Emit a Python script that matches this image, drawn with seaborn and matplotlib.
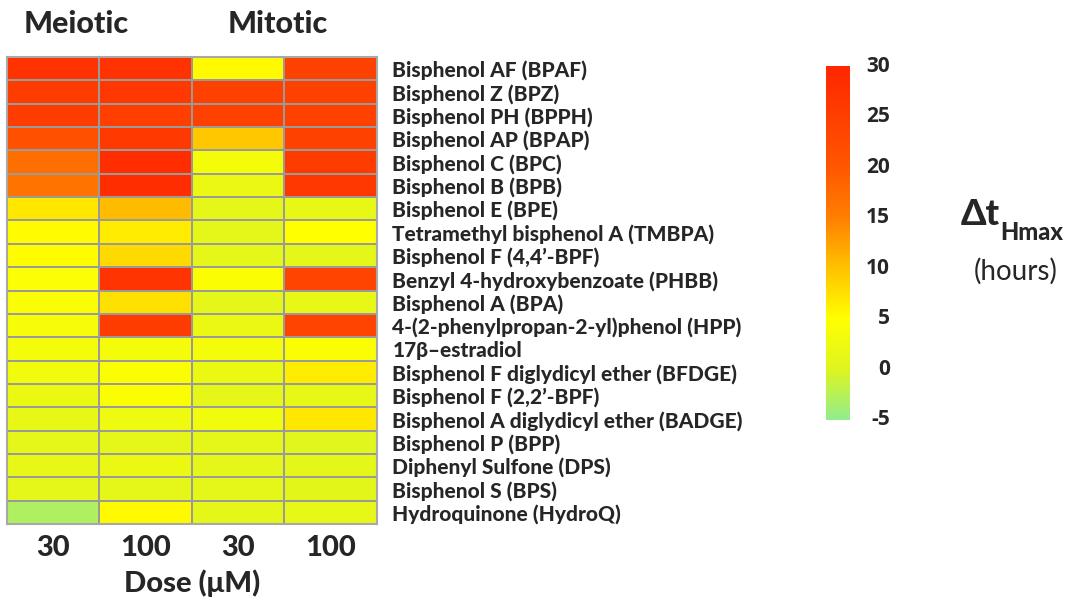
import numpy as np
import pandas as pd
import matplotlib
matplotlib.use("Agg")
import matplotlib.pyplot as plt
import matplotlib.transforms as mtransforms
from matplotlib.colors import LinearSegmentedColormap
import seaborn as sns

compounds = [
    "Bisphenol AF (BPAF)",
    "Bisphenol Z (BPZ)",
    "Bisphenol PH (BPPH)",
    "Bisphenol AP (BPAP)",
    "Bisphenol C (BPC)",
    "Bisphenol B (BPB)",
    "Bisphenol E (BPE)",
    "Tetramethyl bisphenol A (TMBPA)",
    "Bisphenol F (4,4\u2019-BPF)",
    "Benzyl 4-hydroxybenzoate (PHBB)",
    "Bisphenol A (BPA)",
    "4-(2-phenylpropan-2-yl)phenol (HPP)",
    "17\u03b2\u2013estradiol",
    "Bisphenol F diglydicyl ether (BFDGE)",
    "Bisphenol F (2,2\u2019-BPF)",
    "Bisphenol A diglydicyl ether (BADGE)",
    "Bisphenol P (BPP)",
    "Diphenyl Sulfone (DPS)",
    "Bisphenol S (BPS)",
    "Hydroquinone (HydroQ)",
]
dose_labels = ["30", "100", "30", "100"]
cbar_ticks = [30, 25, 20, 15, 10, 5, 0, -5]

# Delta t_Hmax (hours) per compound
meiotic_30 = [27.5, 25.5, 25.5, 21.0, 17.0, 16.5, 7.0, 5.3, 5.3, 4.3, 4.2, 3.8, 3.5, 3.0, 2.0, 1.5, 1.0, 1.5, 1.0, -3.0]
meiotic_100 = [27.5, 26.5, 25.0, 26.0, 28.5, 28.5, 10.5, 6.5, 8.0, 27.0, 7.5, 25.5, 3.5, 4.5, 4.5, 2.5, 1.0, 2.0, 1.0, 5.5]
mitotic_30 = [5.5, 24.5, 24.5, 9.5, 3.5, 2.0, 1.0, 1.0, 1.0, 4.5, 1.0, 2.0, 3.5, 2.0, 1.0, 3.0, 1.0, 1.0, 1.0, 1.0]
mitotic_100 = [24.5, 24.5, 24.5, 24.5, 25.5, 26.5, 1.5, 5.0, 1.0, 24.0, 1.5, 24.0, 4.5, 6.5, 1.5, 7.0, 0.5, 1.0, 0.8, 1.5]

data = pd.DataFrame(
    np.column_stack([meiotic_30, meiotic_100, mitotic_30, mitotic_100]),
    index=compounds,
)

vmin, vmax = -5, 30
nodes = [
    (-5, (0.57, 0.93, 0.55)),
    (0, (0.87, 0.96, 0.12)),
    (5, (1.00, 1.00, 0.00)),
    (10, (1.00, 0.76, 0.00)),
    (15, (1.00, 0.50, 0.00)),
    (20, (1.00, 0.34, 0.00)),
    (30, (1.00, 0.15, 0.00)),
]
cmap = LinearSegmentedColormap.from_list(
    "delta_t", [((v - vmin) / (vmax - vmin), c) for v, c in nodes]
)

sns.set_theme(style="white")
plt.rcParams["font.family"] = ["Lato", "DejaVu Sans"]
plt.rcParams["axes.unicode_minus"] = False

W = "black"

fig = plt.figure(figsize=(10.71, 6.06), dpi=100)
ax = fig.add_axes([0.0065, 0.135, 0.3455, 0.771])
cax = fig.add_axes([0.771, 0.307, 0.0224, 0.584])

sns.heatmap(
    data, ax=ax, cbar_ax=cax, cmap=cmap, vmin=vmin, vmax=vmax,
    linewidths=1.2, linecolor="#9a9a9a",
    cbar_kws={"ticks": cbar_ticks},
)

# heatmap frame
for side in ["top", "bottom", "left", "right"]:
    ax.spines[side].set_visible(True)
    ax.spines[side].set_color("#a8a8a8")
    ax.spines[side].set_linewidth(1.5)

ax.yaxis.tick_right()
ax.set_yticks(np.arange(len(compounds)) + 0.5)
ax.set_yticklabels(compounds, rotation=0, fontsize=15, fontweight=W, ha="left")
ax.tick_params(axis="y", length=0, pad=11)
ax.set_xticks(np.arange(4) + 0.5)
ax.set_xticklabels(dose_labels, fontsize=21, fontweight=W)
ax.tick_params(axis="x", length=0, pad=8)
ax.set_xlabel("Dose (\u03bcM)", fontsize=21, fontweight=W, labelpad=6)
ax.set_ylabel("")

fig.text(0.071, 0.960, "Meiotic", fontsize=22, fontweight=W, ha="center", va="center")
fig.text(0.259, 0.960, "Mitotic", fontsize=22, fontweight=W, ha="center", va="center")

# colorbar: no frame, bold right-aligned value labels
cbar = ax.collections[0].colorbar
cbar.outline.set_visible(False)
cax.tick_params(length=0, labelright=False, labelleft=False)
label_tr = mtransforms.blended_transform_factory(cax.transAxes, cax.transData)
for t in cbar_ticks:
    cax.text(2.67, t, str(t), transform=label_tr, fontsize=15, fontweight="bold",
             family="Open Sans", ha="right", va="center", clip_on=False)

fig.text(0.934, 0.628, "\u0394t", fontsize=26, fontweight=W, ha="right", va="baseline")
fig.text(0.934, 0.604, "Hmax", fontsize=17, fontweight=W, ha="left", va="baseline")
fig.text(0.948, 0.553, "(hours)", fontsize=20, ha="center", va="center")

fig.savefig("out.png", dpi=100, facecolor="white")
